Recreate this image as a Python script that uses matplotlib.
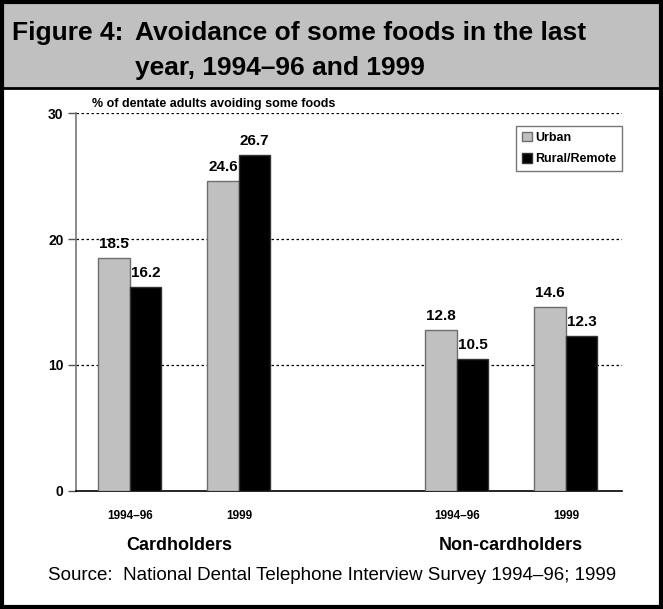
import matplotlib
matplotlib.use("Agg")
import matplotlib.pyplot as plt
from matplotlib.patches import Rectangle
import numpy as np

plt.rcParams['font.family'] = ['Liberation Sans', 'DejaVu Sans']

# survey values, % of dentate adults avoiding some foods
periods = ['1994–96', '1999', '1994–96', '1999']
groups = ['Cardholders', 'Non-cardholders']
urban = [18.5, 24.6, 12.8, 14.6]
rural = [16.2, 26.7, 10.5, 12.3]
yticks = [0, 10, 20, 30]

W, H = 663, 609
fig = plt.figure(figsize=(W / 100, H / 100), dpi=100)


def fx(px):
    return px / W


def fy(py):
    return 1 - py / H


# grey title band and frame
fig.patches.append(Rectangle((0, fy(88)), 1, 88 / H, transform=fig.transFigure,
                             facecolor='#c0c0c0', edgecolor='none', zorder=0))
fig.add_artist(plt.Line2D([0, 1], [fy(88), fy(88)], transform=fig.transFigure,
                          color='black', lw=2))
fig.patches.append(Rectangle((0.0025, 0.0025), 0.995, 0.995, transform=fig.transFigure,
                             facecolor='none', edgecolor='black', lw=3, zorder=5))

fig.text(fx(12), fy(33), 'Figure 4:', fontsize=19, fontweight='bold', va='center')
fig.text(fx(135), fy(33), 'Avoidance of some foods in the last', fontsize=19,
         fontweight='bold', va='center')
fig.text(fx(135), fy(68), 'year, 1994–96 and 1999', fontsize=19,
         fontweight='bold', va='center')

# plot area
left, right, top, bottom = 76, 621.7, 113.3, 490.7
ax = fig.add_axes([fx(left), fy(bottom), (right - left) / W, (bottom - top) / H])

x = np.array([0, 1, 3, 4])
w = 0.289
b1 = ax.bar(x - w / 2, urban, w, color='#c0c0c0', edgecolor='#6e6e6e', lw=1,
            label='Urban', zorder=3)
b2 = ax.bar(x + w / 2, rural, w, color='black', edgecolor='#333333', lw=1,
            label='Rural/Remote', zorder=3)

for bars, vals in ((b1, urban), (b2, rural)):
    for r, v in zip(bars, vals):
        ax.annotate(f'{v:.1f}', (r.get_x() + r.get_width() / 2, v),
                    xytext=(0, 5), textcoords='offset points', ha='center',
                    va='bottom', fontsize=11, fontweight='bold')

ax.set_xlim(-0.495, 4.511)
ax.set_ylim(0, 30)
ax.set_yticks(yticks)
ax.set_yticklabels([str(t) for t in yticks], fontsize=10, fontweight='bold')
ax.set_xticks(x)
ax.set_xticklabels(periods, fontsize=8.5, fontweight='bold')
ax.tick_params(axis='x', length=0, pad=14)
ax.tick_params(axis='y', length=6, width=1, color='#555555', pad=3)

for t in yticks[1:]:
    ax.axhline(t, color='black', lw=0.9, ls=(0, (2, 2)), zorder=1)

for s in ('top', 'right'):
    ax.spines[s].set_visible(False)
ax.spines['left'].set_color('#777777')
ax.spines['left'].set_linewidth(1.2)
ax.spines['bottom'].set_color('black')
ax.spines['bottom'].set_linewidth(1.2)

ax.text((92 - left) / (right - left), 1.01, '% of dentate adults avoiding some foods',
        transform=ax.transAxes, fontsize=9, fontweight='bold', va='bottom')

leg = ax.legend(loc='upper right', bbox_to_anchor=(fx(622), fy(126)),
                bbox_transform=fig.transFigure, prop={'size': 9, 'weight': 'bold'},
                fancybox=False, edgecolor='#555555', handlelength=0.8,
                handleheight=0.8, handletextpad=0.3, borderpad=0.45,
                labelspacing=0.75, borderaxespad=0)
leg.get_frame().set_linewidth(1)

# group names and source line
fig.text(fx(179), fy(545), groups[0], fontsize=13, fontweight='bold',
         ha='center', va='center')
fig.text(fx(511), fy(545), groups[1], fontsize=13, fontweight='bold',
         ha='center', va='center')
fig.text(fx(48), fy(576), 'Source:  National Dental Telephone Interview Survey 1994–96; 1999',
         fontsize=13.5, ha='left', va='center')

fig.savefig('out.png', dpi=100)
